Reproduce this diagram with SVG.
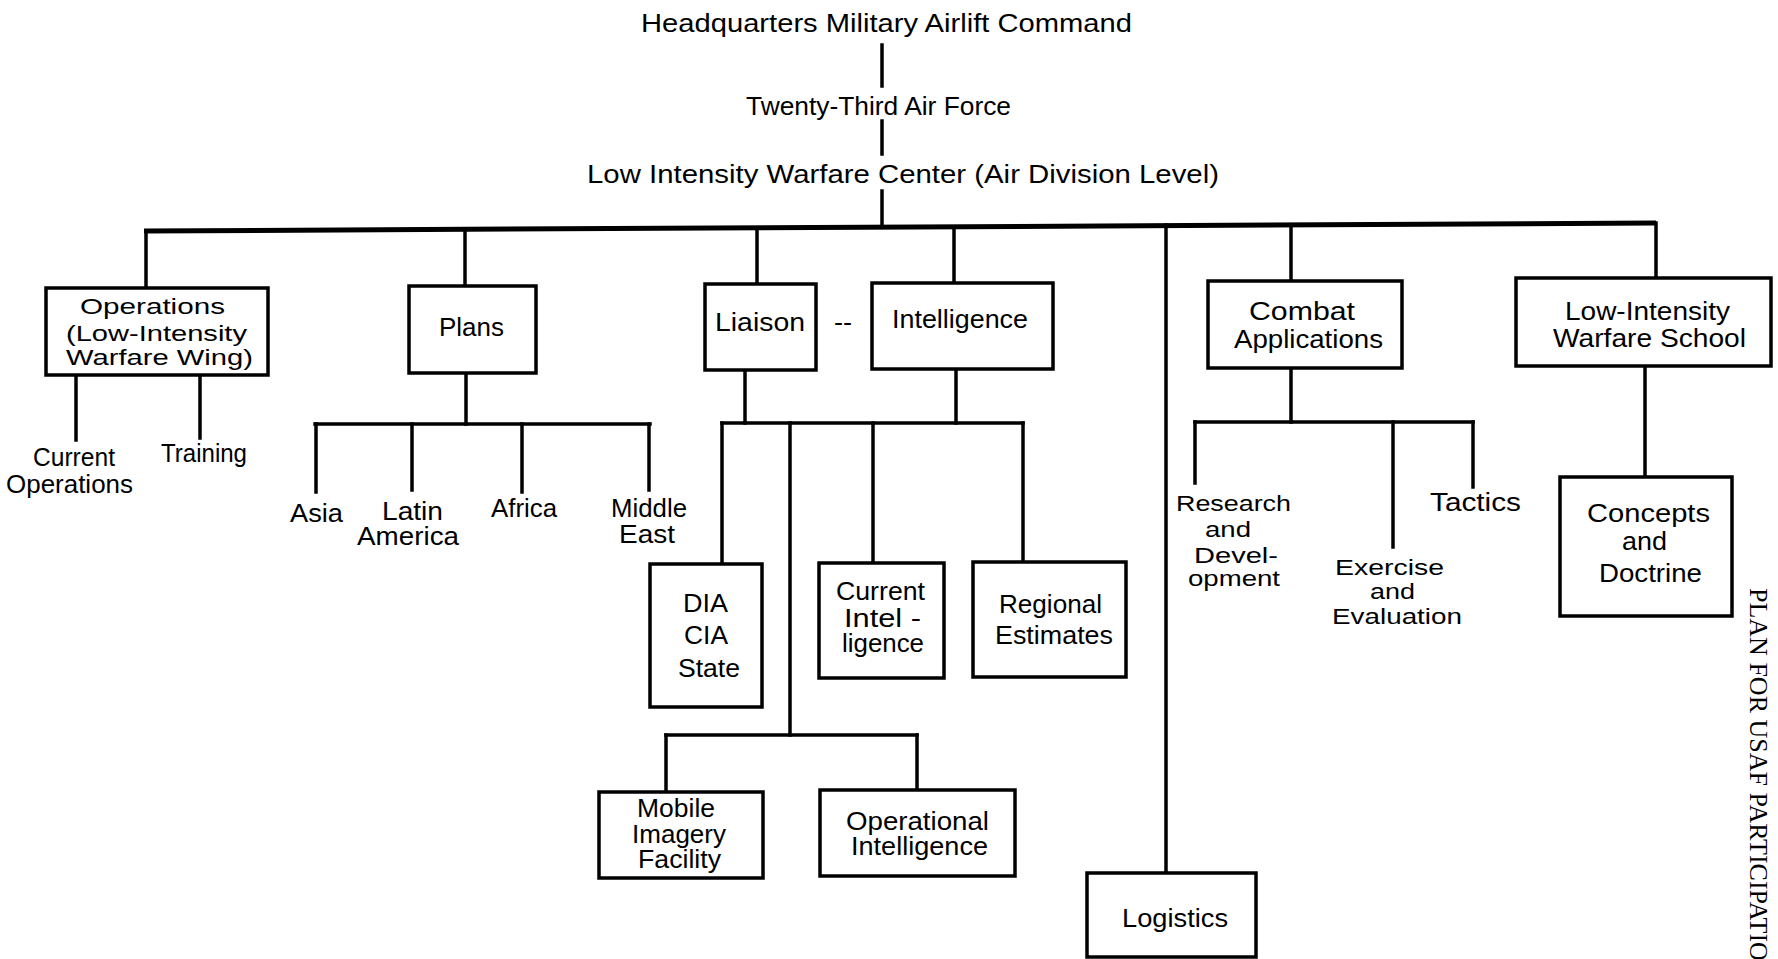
<svg xmlns="http://www.w3.org/2000/svg" width="1778" height="959" viewBox="0 0 1778 959">
<style>
  .bg { fill: #ffffff; }
  .box { fill: #ffffff; stroke: #000000; stroke-width: 3.5; }
  .ln { fill: none; stroke: #000000; stroke-width: 3.5; stroke-linecap: square; }
  .main { fill: none; stroke: #000000; stroke-width: 5; }
  text { font-family: "Liberation Sans", Arial, sans-serif; font-size: 25px; fill: #000000; }
  .big { font-size: 26px; }
  .tight { font-size: 22px; }
  .side { font-family: "Liberation Serif", "Times New Roman", serif; font-size: 26px; }
</style>
<rect class="bg" x="0" y="0" width="1778" height="959"/>

<g id="connectors">
  <line class="ln" x1="882" y1="45" x2="882" y2="86"/>
  <line class="ln" x1="882" y1="121" x2="882" y2="154"/>
  <line class="ln" x1="882" y1="191" x2="882" y2="227"/>
  <polyline class="main" points="144,231 1656,223"/>
  <line class="ln" x1="146" y1="231" x2="146" y2="288"/>
  <line class="ln" x1="465" y1="229" x2="465" y2="286"/>
  <line class="ln" x1="757" y1="228" x2="757" y2="284"/>
  <line class="ln" x1="954" y1="227" x2="954" y2="283"/>
  <line class="ln" x1="1166" y1="225" x2="1166" y2="873"/>
  <line class="ln" x1="1291" y1="225" x2="1291" y2="281"/>
  <line class="ln" x1="1656" y1="223" x2="1656" y2="278"/>
  <!-- Operations -->
  <line class="ln" x1="76" y1="375" x2="76" y2="440"/>
  <line class="ln" x1="200" y1="375" x2="200" y2="438"/>
  <!-- Plans -->
  <line class="ln" x1="466" y1="373" x2="466" y2="424"/>
  <line class="ln" x1="315" y1="424" x2="650" y2="424"/>
  <line class="ln" x1="316" y1="424" x2="316" y2="492"/>
  <line class="ln" x1="412" y1="424" x2="412" y2="490"/>
  <line class="ln" x1="522" y1="424" x2="522" y2="492"/>
  <line class="ln" x1="649" y1="424" x2="649" y2="490"/>
  <!-- Liaison / Intelligence -->
  <line class="ln" x1="745" y1="370" x2="745" y2="423"/>
  <line class="ln" x1="956" y1="369" x2="956" y2="423"/>
  <line class="ln" x1="722" y1="423" x2="1023" y2="423"/>
  <line class="ln" x1="722" y1="423" x2="722" y2="564"/>
  <line class="ln" x1="790" y1="423" x2="790" y2="735"/>
  <line class="ln" x1="873" y1="423" x2="873" y2="563"/>
  <line class="ln" x1="1023" y1="423" x2="1023" y2="562"/>
  <line class="ln" x1="666" y1="735" x2="917" y2="735"/>
  <line class="ln" x1="666" y1="735" x2="666" y2="792"/>
  <line class="ln" x1="917" y1="735" x2="917" y2="790"/>
  <!-- Combat Applications -->
  <line class="ln" x1="1291" y1="368" x2="1291" y2="422"/>
  <line class="ln" x1="1195" y1="422" x2="1473" y2="422"/>
  <line class="ln" x1="1195" y1="422" x2="1195" y2="483"/>
  <line class="ln" x1="1393" y1="422" x2="1393" y2="547"/>
  <line class="ln" x1="1473" y1="422" x2="1473" y2="487"/>
  <!-- School -->
  <line class="ln" x1="1645" y1="366" x2="1645" y2="477"/>
</g>

<g id="hq">
  <text class="big" x="641" y="32" textLength="491" lengthAdjust="spacingAndGlyphs">Headquarters Military Airlift Command</text>
</g>
<g id="twenty-third">
  <text class="big" x="746" y="115" textLength="265" lengthAdjust="spacingAndGlyphs">Twenty-Third Air Force</text>
</g>
<g id="liwc">
  <text class="big" x="587" y="183" textLength="632" lengthAdjust="spacingAndGlyphs">Low Intensity Warfare Center (Air Division Level)</text>
</g>

<g id="operations">
  <rect class="box" x="46" y="288" width="222" height="87"/>
  <text class="tight" x="80" y="314" textLength="145" lengthAdjust="spacingAndGlyphs">Operations</text>
  <text class="tight" x="66" y="341" textLength="181" lengthAdjust="spacingAndGlyphs">(Low-Intensity</text>
  <text class="tight" x="66" y="365" textLength="187" lengthAdjust="spacingAndGlyphs">Warfare Wing)</text>
</g>
<g id="current-operations">
  <text x="33" y="466" textLength="82" lengthAdjust="spacingAndGlyphs">Current</text>
  <text x="6" y="493" textLength="127" lengthAdjust="spacingAndGlyphs">Operations</text>
</g>
<g id="training">
  <text x="161" y="462" textLength="86" lengthAdjust="spacingAndGlyphs">Training</text>
</g>

<g id="plans">
  <rect class="box" x="409" y="286" width="127" height="87"/>
  <text x="439" y="336" textLength="65" lengthAdjust="spacingAndGlyphs">Plans</text>
</g>
<g id="asia"><text x="290" y="522" textLength="53" lengthAdjust="spacingAndGlyphs">Asia</text></g>
<g id="latin-america">
  <text x="382" y="520" textLength="61" lengthAdjust="spacingAndGlyphs">Latin</text>
  <text x="357" y="545" textLength="102" lengthAdjust="spacingAndGlyphs">America</text>
</g>
<g id="africa"><text x="491" y="517" textLength="66" lengthAdjust="spacingAndGlyphs">Africa</text></g>
<g id="middle-east">
  <text x="611" y="517" textLength="76" lengthAdjust="spacingAndGlyphs">Middle</text>
  <text x="619" y="543" textLength="56" lengthAdjust="spacingAndGlyphs">East</text>
</g>

<g id="liaison">
  <rect class="box" x="705" y="284" width="111" height="86"/>
  <text x="715" y="331" textLength="90" lengthAdjust="spacingAndGlyphs">Liaison</text>
</g>
<g id="dash"><text x="834" y="331" textLength="18" lengthAdjust="spacingAndGlyphs">--</text></g>
<g id="intelligence">
  <rect class="box" x="872" y="283" width="181" height="86"/>
  <text x="892" y="328" textLength="136" lengthAdjust="spacingAndGlyphs">Intelligence</text>
</g>

<g id="dia-cia-state">
  <rect class="box" x="650" y="564" width="112" height="143"/>
  <text class="big" x="683" y="612" textLength="45" lengthAdjust="spacingAndGlyphs">DIA</text>
  <text class="big" x="684" y="644" textLength="44" lengthAdjust="spacingAndGlyphs">CIA</text>
  <text class="big" x="678" y="677" textLength="62" lengthAdjust="spacingAndGlyphs">State</text>
</g>
<g id="current-intelligence">
  <rect class="box" x="819" y="563" width="125" height="115"/>
  <text x="836" y="600" textLength="89" lengthAdjust="spacingAndGlyphs">Current</text>
  <text x="844" y="627" textLength="77" lengthAdjust="spacingAndGlyphs">Intel -</text>
  <text x="842" y="652" textLength="82" lengthAdjust="spacingAndGlyphs">ligence</text>
</g>
<g id="regional-estimates">
  <rect class="box" x="973" y="562" width="153" height="115"/>
  <text x="999" y="613" textLength="103" lengthAdjust="spacingAndGlyphs">Regional</text>
  <text x="995" y="644" textLength="118" lengthAdjust="spacingAndGlyphs">Estimates</text>
</g>
<g id="mobile-imagery">
  <rect class="box" x="599" y="792" width="164" height="86"/>
  <text x="637" y="817" textLength="78" lengthAdjust="spacingAndGlyphs">Mobile</text>
  <text x="632" y="843" textLength="94" lengthAdjust="spacingAndGlyphs">Imagery</text>
  <text x="638" y="868" textLength="83" lengthAdjust="spacingAndGlyphs">Facility</text>
</g>
<g id="operational-intelligence">
  <rect class="box" x="820" y="790" width="195" height="86"/>
  <text x="846" y="830" textLength="143" lengthAdjust="spacingAndGlyphs">Operational</text>
  <text x="851" y="855" textLength="137" lengthAdjust="spacingAndGlyphs">Intelligence</text>
</g>

<g id="logistics">
  <rect class="box" x="1087" y="873" width="169" height="84"/>
  <text class="big" x="1122" y="927" textLength="106" lengthAdjust="spacingAndGlyphs">Logistics</text>
</g>

<g id="combat-applications">
  <rect class="box" x="1208" y="281" width="194" height="87"/>
  <text x="1249" y="320" textLength="106" lengthAdjust="spacingAndGlyphs">Combat</text>
  <text x="1234" y="348" textLength="149" lengthAdjust="spacingAndGlyphs">Applications</text>
</g>
<g id="research-development">
  <text class="tight" x="1176" y="511" textLength="115" lengthAdjust="spacingAndGlyphs">Research</text>
  <text class="tight" x="1205" y="537" textLength="46" lengthAdjust="spacingAndGlyphs">and</text>
  <text class="tight" x="1194" y="563" textLength="84" lengthAdjust="spacingAndGlyphs">Devel-</text>
  <text class="tight" x="1188" y="586" textLength="92" lengthAdjust="spacingAndGlyphs">opment</text>
</g>
<g id="exercise-evaluation">
  <text class="tight" x="1335" y="575" textLength="109" lengthAdjust="spacingAndGlyphs">Exercise</text>
  <text class="tight" x="1370" y="599" textLength="45" lengthAdjust="spacingAndGlyphs">and</text>
  <text class="tight" x="1332" y="624" textLength="130" lengthAdjust="spacingAndGlyphs">Evaluation</text>
</g>
<g id="tactics">
  <text x="1430" y="511" textLength="91" lengthAdjust="spacingAndGlyphs">Tactics</text>
</g>

<g id="liw-school">
  <rect class="box" x="1516" y="278" width="255" height="88"/>
  <text x="1565" y="320" textLength="165" lengthAdjust="spacingAndGlyphs">Low-Intensity</text>
  <text x="1553" y="347" textLength="193" lengthAdjust="spacingAndGlyphs">Warfare School</text>
</g>
<g id="concepts-doctrine">
  <rect class="box" x="1560" y="477" width="172" height="139"/>
  <text class="big" x="1587" y="522" textLength="123" lengthAdjust="spacingAndGlyphs">Concepts</text>
  <text class="big" x="1622" y="550" textLength="45" lengthAdjust="spacingAndGlyphs">and</text>
  <text class="big" x="1599" y="582" textLength="103" lengthAdjust="spacingAndGlyphs">Doctrine</text>
</g>

<g id="side-caption">
  <text class="side" transform="translate(1750,588) rotate(90)">PLAN FOR USAF PARTICIPATIO</text>
</g>
</svg>
